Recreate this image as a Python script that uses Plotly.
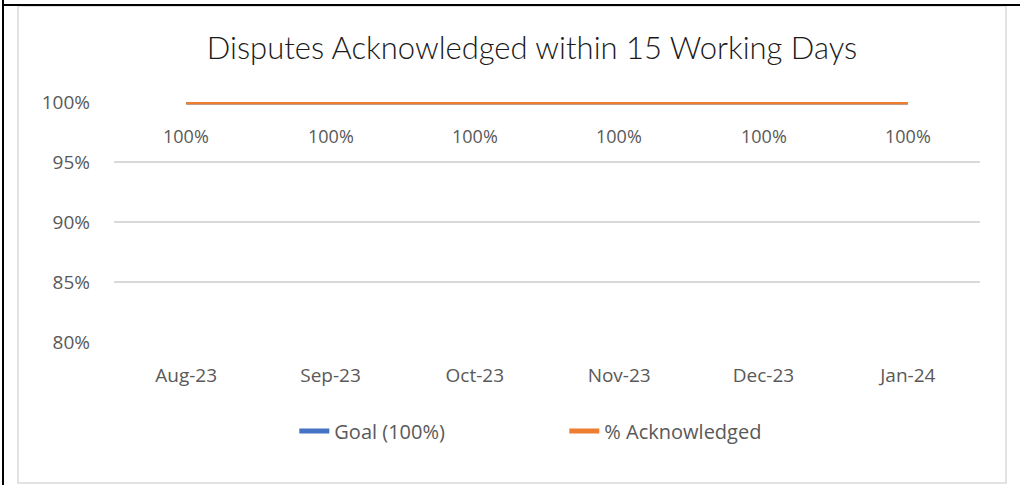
import plotly.graph_objects as go

# data
months = ["Aug-23", "Sep-23", "Oct-23", "Nov-23", "Dec-23", "Jan-24"]
goal = [1.0, 1.0, 1.0, 1.0, 1.0, 1.0]
acknowledged = [1.0, 1.0, 1.0, 1.0, 1.0, 1.0]
y_ticks = [0.80, 0.85, 0.90, 0.95, 1.00]

TXT = "#595959"
FONT = "Open Sans"

W, H = 1020, 485
L, R, T, B = 114, 40, 102, 143


def px_x(px):
    return (px - L) / (W - L - R)


def px_y(py):
    return (H - B - py) / (H - T - B)


fig = go.Figure()

fig.add_trace(go.Scatter(
    x=months, y=goal, mode="lines", name="Goal (100%)",
    line=dict(color="#4472C4", width=5),
))
fig.add_trace(go.Scatter(
    x=months, y=acknowledged, mode="lines", name="% Acknowledged",
    line=dict(color="#ED7D31", width=5),
))

# data labels under the orange line
for m, v in zip(months, acknowledged):
    fig.add_annotation(
        x=m, y=v, text=f"{v:.0%}", showarrow=False, yshift=-34,
        font=dict(family=FONT, size=18, color=TXT),
    )

# frame: outer black lines and light grey chart border
shapes = [
    dict(type="rect", xref="paper", yref="paper",
         x0=px_x(18), x1=px_x(1006), y0=px_y(483), y1=px_y(6),
         line=dict(color="#D9D9D9", width=1.5), layer="below"),
    dict(type="line", xref="paper", yref="paper",
         x0=px_x(3), x1=px_x(3), y0=px_y(0), y1=px_y(H),
         line=dict(color="black", width=2)),
    dict(type="line", xref="paper", yref="paper",
         x0=px_x(3), x1=px_x(W), y0=px_y(5), y1=px_y(5),
         line=dict(color="black", width=2)),
]

fig.update_layout(
    width=W, height=H,
    margin=dict(l=L, r=R, t=T, b=B),
    paper_bgcolor="white", plot_bgcolor="white",
    shapes=shapes,
    title=dict(
        text="Disputes Acknowledged within 15 Working Days",
        x=532 / W, xanchor="center",
        y=1 - 48 / H, yanchor="middle",
        font=dict(family="Lato", size=31, weight=300, color="#1a1a1a"),
    ),
    showlegend=True,
    legend=dict(
        orientation="h", x=0.52, xanchor="center",
        y=px_y(431), yanchor="middle",
        font=dict(family=FONT, size=20, color=TXT),
        entrywidth=225, entrywidthmode="pixels",
        bgcolor="rgba(0,0,0,0)",
    ),
    xaxis=dict(
        range=[-0.5, 5.5],
        showgrid=False, showline=False, zeroline=False,
        tickfont=dict(family=FONT, size=19, color=TXT),
        ticklabelstandoff=20,
    ),
    yaxis=dict(
        range=[0.8, 1.0], tickvals=y_ticks, tickformat=".0%",
        showgrid=True, gridcolor="#D9D9D9", gridwidth=1.5,
        zeroline=False, showline=False,
        tickfont=dict(family=FONT, size=19, color=TXT),
        ticklabelstandoff=23,
    ),
)

fig.write_html("out.html", config={"displayModeBar": False},
               post_script="document.body.style.margin='0';")
